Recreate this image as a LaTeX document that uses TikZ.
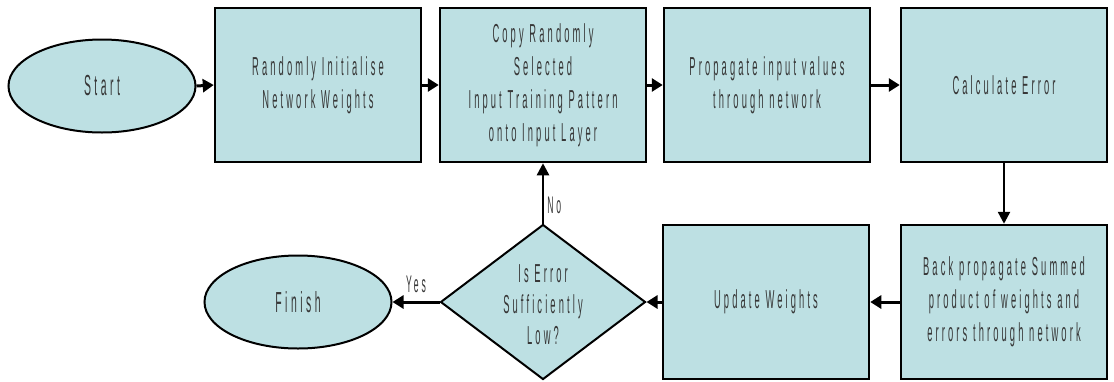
\documentclass[tikz,border=0pt]{standalone}
\usepackage{fontspec}
\newfontfamily\nar[FakeStretch=0.36,LetterSpace=12]{Liberation Sans}
\usetikzlibrary{shapes.geometric,arrows.meta}
\definecolor{boxfill}{RGB}{189,224,227}
\definecolor{txt}{RGB}{55,55,55}
\begin{document}
\begin{tikzpicture}[x=1pt,y=-1pt,
  stepbox/.style={draw=black,line width=2.5pt,fill=boxfill,minimum width=206pt,minimum height=154pt,inner sep=0pt,align=center,text=txt,font=\nar\fontsize{26}{33}\selectfont},
  term/.style={ellipse,draw=black,line width=2pt,fill=boxfill,minimum width=187pt,minimum height=93pt,inner sep=0pt,text=txt,font=\nar\fontsize{29}{30}\selectfont},
  dec/.style={diamond,draw=black,line width=2pt,fill=boxfill,minimum width=205pt,minimum height=155pt,inner sep=0pt,aspect=1.32},
  dtext/.style={align=center,inner sep=0pt,text=txt,font=\nar\fontsize{26}{31}\selectfont},
  lbl/.style={inner sep=0pt,text=txt,font=\nar\fontsize{24}{24}\selectfont},
  flow/.style={line width=3pt,-{Triangle[length=11pt,width=13pt]}},
  vflow/.style={line width=2.5pt,-{Triangle[length=12pt,width=12pt]}}]
\useasboundingbox (0,0) rectangle (1114,381);
\node[term] (start) at (102,86) {Start};
\node[stepbox] (init) at (318,85) {Randomly Initialise\\Network Weights};
\node[stepbox] (copy) at (543,85) {Copy Randomly\\Selected\\Input Training Pattern\\onto Input Layer};
\node[stepbox] (prop) at (767,85) {Propagate input values\\through network};
\node[stepbox] (calc) at (1004,85) {Calculate Error};
\node[stepbox] (back) at (1004,302) {Back propagate Summed\\product of weights and\\errors through network};
\node[stepbox] (upd) at (766,302) {Update Weights};
\node[dec] (dec) at (543,302) {};
\node[dtext] at (543,305) {Is Error\\Sufficiently\\Low?};
\node[term] (fin) at (298,302) {Finish};
\draw[flow] (start.east) -- (init.west);
\draw[flow] (init.east) -- (copy.west);
\draw[flow] (copy.east) -- (prop.west);
\draw[flow] (prop.east) -- (calc.west);
\draw[vflow] (calc.south) -- (back.north);
\draw[flow] (back.west) -- (upd.east);
\draw[flow] (upd.west) -- (dec.east);
\draw[flow] (dec.west) -- (fin.east) node[lbl,midway,above=8pt] {Yes};
\draw[vflow] (dec.north) -- (copy.south) node[lbl,pos=0.3,right=3pt] {No};
\end{tikzpicture}
\end{document}
